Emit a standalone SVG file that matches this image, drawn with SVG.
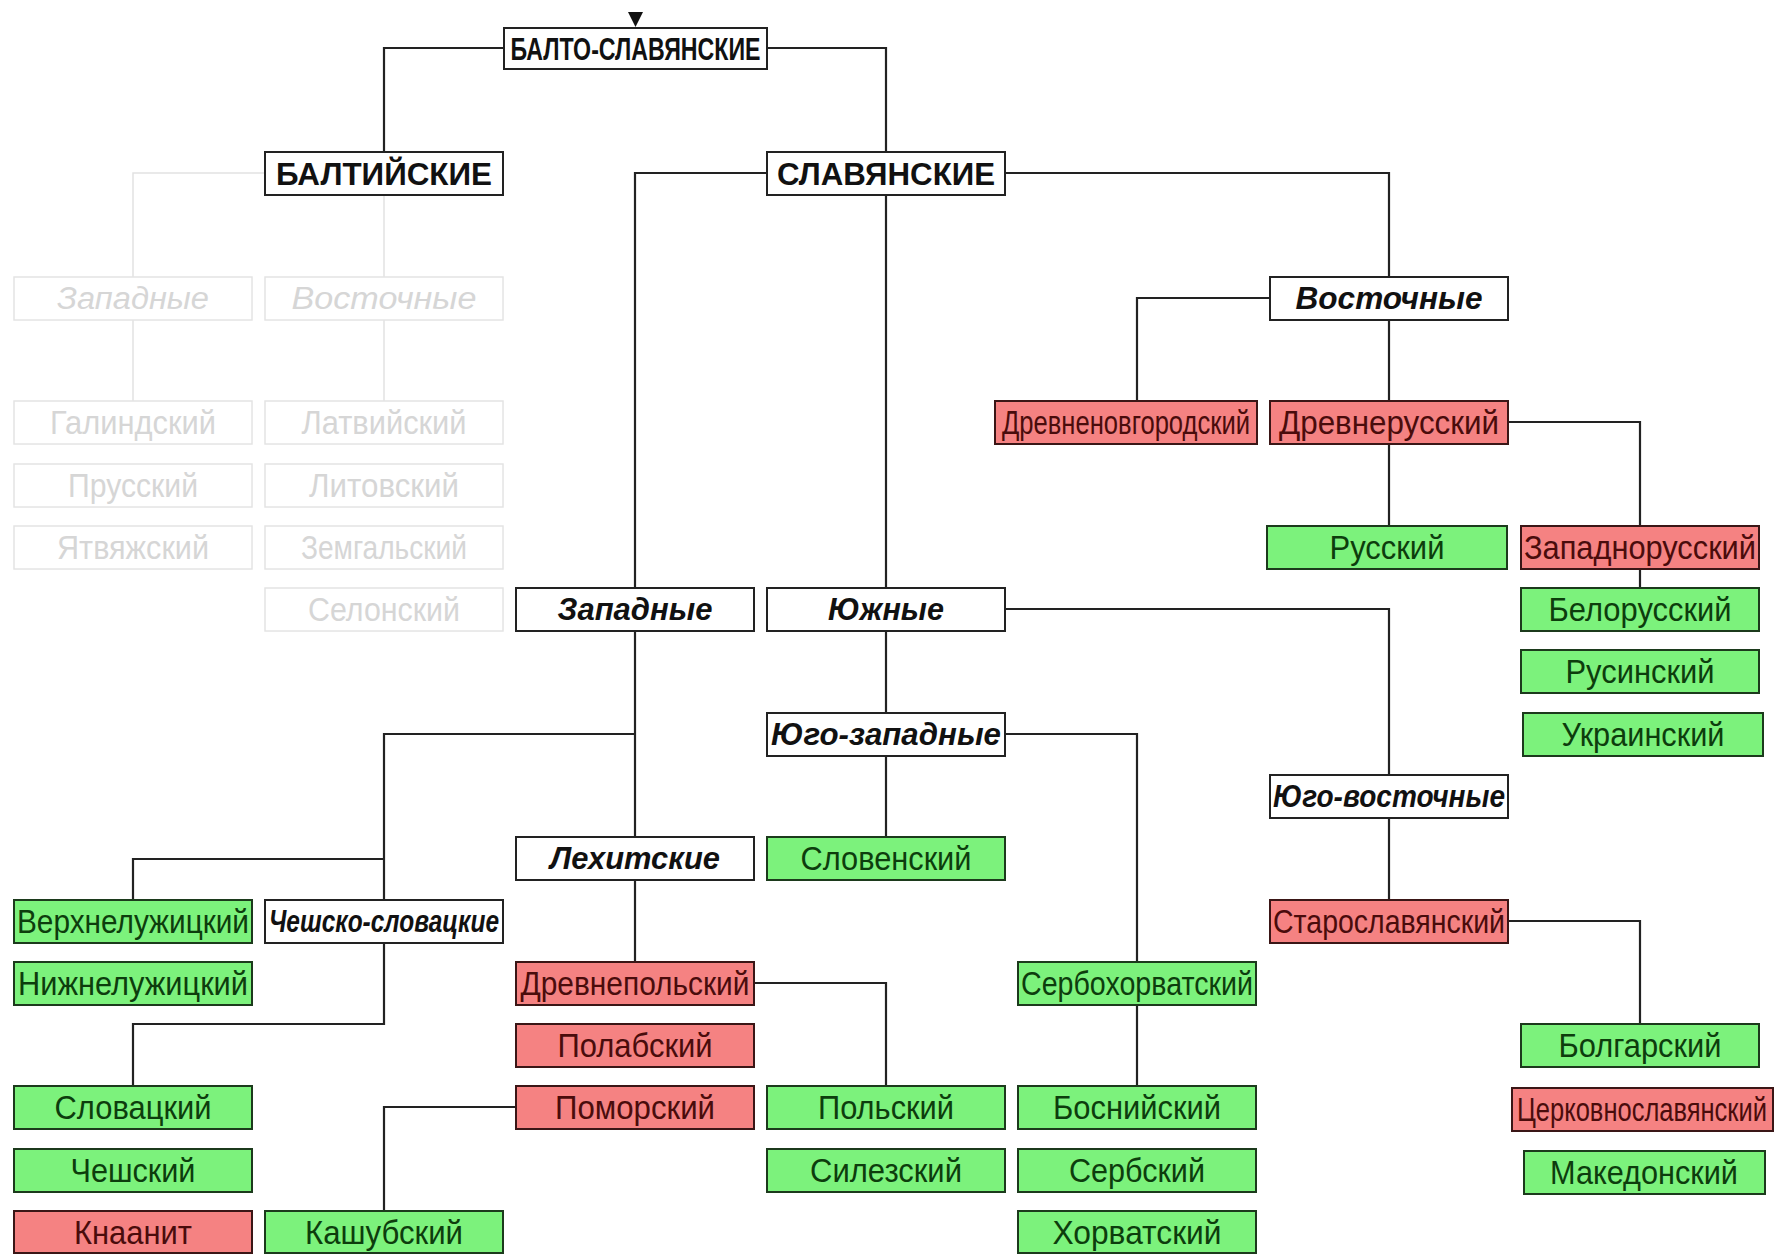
<svg xmlns="http://www.w3.org/2000/svg" width="1779" height="1254" viewBox="0 0 1779 1254">
<style>
rect{stroke-width:2}
.w{fill:#ffffff;stroke:#222}
.g{fill:#7cf27c;stroke:#1c3a1c}
.r{fill:#f58282;stroke:#3a1616}
.f{fill:#ffffff;stroke:#e4e4e4;stroke-width:1.5}
text{font-family:"Liberation Sans Narrow","Liberation Sans",Arial,sans-serif;font-size:34px;text-anchor:middle}
.tg{fill:#0d3d0d}
.tr{fill:#4a0c0c}
.th{fill:#111;font-family:"Liberation Sans",Arial,sans-serif;font-weight:bold;font-size:32px}
.ti{fill:#111;font-family:"Liberation Sans",Arial,sans-serif;font-weight:bold;font-style:italic;font-size:31px}
.tf{fill:#d6d6d6}
.tfi{fill:#d6d6d6;font-family:"Liberation Sans",Arial,sans-serif;font-style:italic;font-size:31px}
.c{fill:none;stroke:#222;stroke-width:2.2}
.cf{fill:none;stroke:#e2e2e2;stroke-width:1.5}
</style>
<rect width="1779" height="1254" fill="#ffffff"/>
<g id="connectors">
<path class="cf" d="M265,173 H133 V277"/>
<path class="cf" d="M384,195 V277"/>
<path class="cf" d="M133,320 V401"/>
<path class="cf" d="M384,320 V401"/>
<path class="c" d="M504,48 H384 V152"/>
<path class="c" d="M767,48 H886 V152"/>
<path class="c" d="M767,173 H635 V588"/>
<path class="c" d="M886,195 V588"/>
<path class="c" d="M1005,173 H1389 V277"/>
<path class="c" d="M1270,298 H1137 V401"/>
<path class="c" d="M1389,320 V401"/>
<path class="c" d="M1389,444 V526"/>
<path class="c" d="M1508,422 H1640 V526"/>
<path class="c" d="M1640,569 V588"/>
<path class="c" d="M1005,609 H1389 V775"/>
<path class="c" d="M886,631 V713"/>
<path class="c" d="M886,756 V837"/>
<path class="c" d="M1005,734 H1137 V962"/>
<path class="c" d="M1389,818 V900"/>
<path class="c" d="M1508,921 H1640 V1024"/>
<path class="c" d="M1137,1005 V1086"/>
<path class="c" d="M635,631 V837"/>
<path class="c" d="M635,734 H384 V900"/>
<path class="c" d="M384,859 H133 V900"/>
<path class="c" d="M635,880 V962"/>
<path class="c" d="M754,983 H886 V1086"/>
<path class="c" d="M384,943 V1024 H133 V1086"/>
<path class="c" d="M516,1107 H384 V1211"/>
<polygon points="628,12 643,12 635.5,27" fill="#111"/>
</g>

<g id="n-balto-slav"><rect class="w" x="504" y="28" width="263" height="41"/><text class="th" x="635.5" y="60" textLength="250" lengthAdjust="spacingAndGlyphs">БАЛТО-СЛАВЯНСКИЕ</text></g>
<g id="n-balt"><rect class="w" x="265" y="152" width="238" height="43"/><text class="th" x="384" y="185" textLength="216" lengthAdjust="spacingAndGlyphs">БАЛТИЙСКИЕ</text></g>
<g id="n-slav"><rect class="w" x="767" y="152" width="238" height="43"/><text class="th" x="886" y="185" textLength="218" lengthAdjust="spacingAndGlyphs">СЛАВЯНСКИЕ</text></g>

<g id="n-balt-west"><rect class="f" x="14" y="277" width="238" height="43"/><text class="tfi" x="133" y="309" textLength="152" lengthAdjust="spacingAndGlyphs">Западные</text></g>
<g id="n-balt-east"><rect class="f" x="265" y="277" width="238" height="43"/><text class="tfi" x="384" y="309" textLength="185" lengthAdjust="spacingAndGlyphs">Восточные</text></g>
<g id="n-galind"><rect class="f" x="14" y="401" width="238" height="43"/><text class="tf" x="133" y="434" textLength="166" lengthAdjust="spacingAndGlyphs">Галиндский</text></g>
<g id="n-latv"><rect class="f" x="265" y="401" width="238" height="43"/><text class="tf" x="384" y="434" textLength="165" lengthAdjust="spacingAndGlyphs">Латвийский</text></g>
<g id="n-prus"><rect class="f" x="14" y="464" width="238" height="43"/><text class="tf" x="133" y="497" textLength="130" lengthAdjust="spacingAndGlyphs">Прусский</text></g>
<g id="n-lit"><rect class="f" x="265" y="464" width="238" height="43"/><text class="tf" x="384" y="497" textLength="150" lengthAdjust="spacingAndGlyphs">Литовский</text></g>
<g id="n-jatv"><rect class="f" x="14" y="526" width="238" height="43"/><text class="tf" x="133" y="559" textLength="152" lengthAdjust="spacingAndGlyphs">Ятвяжский</text></g>
<g id="n-zemg"><rect class="f" x="265" y="526" width="238" height="43"/><text class="tf" x="384" y="559" textLength="166" lengthAdjust="spacingAndGlyphs">Земгальский</text></g>
<g id="n-selon"><rect class="f" x="265" y="588" width="238" height="43"/><text class="tf" x="384" y="621" textLength="152" lengthAdjust="spacingAndGlyphs">Селонский</text></g>

<g id="n-east"><rect class="w" x="1270" y="277" width="238" height="43"/><text class="ti" x="1389" y="309" textLength="187" lengthAdjust="spacingAndGlyphs">Восточные</text></g>
<g id="n-drevnenovg"><rect class="r" x="995" y="401" width="262" height="43"/><text class="tr" transform="translate(1126,434) scale(0.5,1)" x="0" y="0" textLength="496" lengthAdjust="spacingAndGlyphs">Древненовгородский</text></g>
<g id="n-drevnerus"><rect class="r" x="1270" y="401" width="238" height="43"/><text class="tr" x="1389" y="434" textLength="220" lengthAdjust="spacingAndGlyphs">Древнерусский</text></g>
<g id="n-rus"><rect class="g" x="1267" y="526" width="240" height="43"/><text class="tg" x="1387" y="559" textLength="115" lengthAdjust="spacingAndGlyphs">Русский</text></g>
<g id="n-zapadnorus"><rect class="r" x="1521" y="526" width="238" height="43"/><text class="tr" x="1640" y="559" textLength="232" lengthAdjust="spacingAndGlyphs">Западнорусский</text></g>
<g id="n-belorus"><rect class="g" x="1521" y="588" width="238" height="43"/><text class="tg" x="1640" y="621" textLength="183" lengthAdjust="spacingAndGlyphs">Белорусский</text></g>
<g id="n-rusin"><rect class="g" x="1521" y="650" width="238" height="43"/><text class="tg" x="1640" y="683" textLength="149" lengthAdjust="spacingAndGlyphs">Русинский</text></g>
<g id="n-ukr"><rect class="g" x="1523" y="713" width="240" height="43"/><text class="tg" x="1643" y="746" textLength="163" lengthAdjust="spacingAndGlyphs">Украинский</text></g>

<g id="n-west"><rect class="w" x="516" y="588" width="238" height="43"/><text class="ti" x="635" y="620" textLength="155" lengthAdjust="spacingAndGlyphs">Западные</text></g>
<g id="n-south"><rect class="w" x="767" y="588" width="238" height="43"/><text class="ti" x="886" y="620" textLength="116" lengthAdjust="spacingAndGlyphs">Южные</text></g>
<g id="n-sw"><rect class="w" x="767" y="713" width="238" height="43"/><text class="ti" x="886" y="745" textLength="230" lengthAdjust="spacingAndGlyphs">Юго-западные</text></g>
<g id="n-se"><rect class="w" x="1270" y="775" width="238" height="43"/><text class="ti" x="1389" y="807" textLength="232" lengthAdjust="spacingAndGlyphs">Юго-восточные</text></g>
<g id="n-lech"><rect class="w" x="516" y="837" width="238" height="43"/><text class="ti" x="635" y="869" textLength="170" lengthAdjust="spacingAndGlyphs">Лехитские</text></g>
<g id="n-sloven"><rect class="g" x="767" y="837" width="238" height="43"/><text class="tg" x="886" y="870" textLength="171" lengthAdjust="spacingAndGlyphs">Словенский</text></g>

<g id="n-verchneluz"><rect class="g" x="14" y="900" width="238" height="43"/><text class="tg" x="133" y="933" textLength="232" lengthAdjust="spacingAndGlyphs">Верхнелужицкий</text></g>
<g id="n-czsl"><rect class="w" x="265" y="900" width="238" height="43"/><text class="ti" x="384" y="932" textLength="230" lengthAdjust="spacingAndGlyphs">Чешско-словацкие</text></g>
<g id="n-staroslav"><rect class="r" x="1270" y="900" width="238" height="43"/><text class="tr" x="1389" y="933" textLength="232" lengthAdjust="spacingAndGlyphs">Старославянский</text></g>
<g id="n-nizhneluz"><rect class="g" x="14" y="962" width="238" height="43"/><text class="tg" x="133" y="995" textLength="230" lengthAdjust="spacingAndGlyphs">Нижнелужицкий</text></g>
<g id="n-drevnepol"><rect class="r" x="516" y="962" width="238" height="43"/><text class="tr" x="635" y="995" textLength="229" lengthAdjust="spacingAndGlyphs">Древнепольский</text></g>
<g id="n-serbohorv"><rect class="g" x="1018" y="962" width="238" height="43"/><text class="tg" x="1137" y="995" textLength="232" lengthAdjust="spacingAndGlyphs">Сербохорватский</text></g>
<g id="n-polab"><rect class="r" x="516" y="1024" width="238" height="43"/><text class="tr" x="635" y="1057" textLength="155" lengthAdjust="spacingAndGlyphs">Полабский</text></g>
<g id="n-bolg"><rect class="g" x="1521" y="1024" width="238" height="43"/><text class="tg" x="1640" y="1057" textLength="163" lengthAdjust="spacingAndGlyphs">Болгарский</text></g>
<g id="n-slovak"><rect class="g" x="14" y="1086" width="238" height="43"/><text class="tg" x="133" y="1119" textLength="157" lengthAdjust="spacingAndGlyphs">Словацкий</text></g>
<g id="n-pomor"><rect class="r" x="516" y="1086" width="238" height="43"/><text class="tr" x="635" y="1119" textLength="160" lengthAdjust="spacingAndGlyphs">Поморский</text></g>
<g id="n-polsk"><rect class="g" x="767" y="1086" width="238" height="43"/><text class="tg" x="886" y="1119" textLength="136" lengthAdjust="spacingAndGlyphs">Польский</text></g>
<g id="n-bosn"><rect class="g" x="1018" y="1086" width="238" height="43"/><text class="tg" x="1137" y="1119" textLength="168" lengthAdjust="spacingAndGlyphs">Боснийский</text></g>
<g id="n-cerkov"><rect class="r" x="1512" y="1088" width="261" height="43"/><text class="tr" transform="translate(1642,1121) scale(0.5,1)" x="0" y="0" textLength="500" lengthAdjust="spacingAndGlyphs">Церковнославянский</text></g>
<g id="n-czech"><rect class="g" x="14" y="1149" width="238" height="43"/><text class="tg" x="133" y="1182" textLength="125" lengthAdjust="spacingAndGlyphs">Чешский</text></g>
<g id="n-silez"><rect class="g" x="767" y="1149" width="238" height="43"/><text class="tg" x="886" y="1182" textLength="152" lengthAdjust="spacingAndGlyphs">Силезский</text></g>
<g id="n-serb"><rect class="g" x="1018" y="1149" width="238" height="43"/><text class="tg" x="1137" y="1182" textLength="136" lengthAdjust="spacingAndGlyphs">Сербский</text></g>
<g id="n-maked"><rect class="g" x="1524" y="1151" width="241" height="43"/><text class="tg" x="1644" y="1184" textLength="188" lengthAdjust="spacingAndGlyphs">Македонский</text></g>
<g id="n-knaanit"><rect class="r" x="14" y="1211" width="238" height="42"/><text class="tr" x="133" y="1244" textLength="118" lengthAdjust="spacingAndGlyphs">Кнаанит</text></g>
<g id="n-kashub"><rect class="g" x="265" y="1211" width="238" height="42"/><text class="tg" x="384" y="1244" textLength="158" lengthAdjust="spacingAndGlyphs">Кашубский</text></g>
<g id="n-horv"><rect class="g" x="1018" y="1211" width="238" height="42"/><text class="tg" x="1137" y="1244" textLength="169" lengthAdjust="spacingAndGlyphs">Хорватский</text></g>
</svg>
